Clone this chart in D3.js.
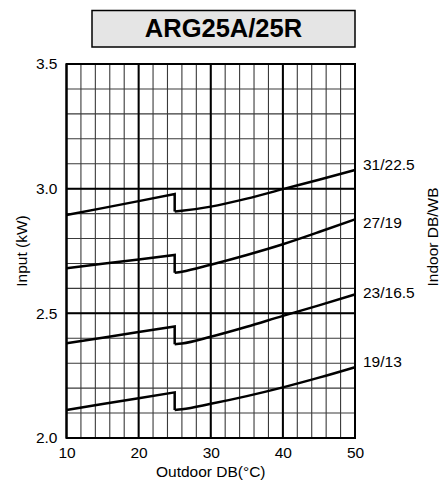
<!DOCTYPE html>
<html>
<head>
<meta charset="utf-8">
<script src="https://cdn.jsdelivr.net/npm/d3@7"></script>
<style>
html,body{margin:0;padding:0;background:#fff;}
svg{display:block;font-family:"Liberation Sans",Arial,sans-serif;}
</style>
</head>
<body>
<svg id="chart" width="443" height="480"></svg>
<script>
const chartTitle = "ARG25A/25R";
const outdoorTemps = [10, 15, 20, 25, 25, 26, 30, 35, 40, 45, 50];
const jumpIndex = 4; // index where the curve after the step starts
const s31 = [2.894, 2.922, 2.950, 2.979, 2.908, 2.911, 2.928, 2.960, 2.998, 3.036, 3.075];
const s27 = [2.681, 2.699, 2.716, 2.734, 2.663, 2.667, 2.695, 2.734, 2.777, 2.826, 2.877];
const s23 = [2.380, 2.402, 2.425, 2.447, 2.376, 2.379, 2.406, 2.446, 2.490, 2.532, 2.576];
const s19 = [2.112, 2.136, 2.159, 2.183, 2.112, 2.115, 2.137, 2.168, 2.203, 2.242, 2.284];
const seriesLabels = ["31/22.5", "27/19", "23/16.5", "19/13"];
const labelValues = [3.095, 2.862, 2.585, 2.305];
const xTicks = [10, 20, 30, 40, 50];
const yTicks = [2.0, 2.5, 3.0, 3.5];
const xTickLabels = ["10", "20", "30", "40", "50"];
const yTickLabels = ["2.0", "2.5", "3.0", "3.5"];
const xMinorStep = 2;
const yMinorStep = 0.1;
const xTitle = "Outdoor DB(°C)";
const yTitle = "Input (kW)";
const rightTitle = "Indoor DB/WB";

const seriesValues = [s31, s27, s23, s19];

const svg = d3.select("#chart");
const L = 66.5, R = 355, T = 64, B = 438;
const x = d3.scaleLinear().domain([10, 50]).range([L, R]);
const y = d3.scaleLinear().domain([2.0, 3.5]).range([B, T]);

// title box
svg.append("rect").attr("x", 92).attr("y", 10.5).attr("width", 263).attr("height", 36.5)
  .attr("fill", "#e5e5e5").attr("stroke", "#000").attr("stroke-width", 1.5);
svg.append("text").attr("x", 223.5).attr("y", 37.3).attr("text-anchor", "middle")
  .attr("font-size", "25.5px").attr("font-weight", "bold").attr("fill", "#000").text(chartTitle);

const g = svg.append("g");

// minor grid
const xMinor = d3.range(10, 50 + 1e-9, xMinorStep);
const yMinor = d3.range(0, 16).map(i => +(2.0 + i * yMinorStep).toFixed(2));
g.selectAll(".vx").data(xMinor).join("line")
  .attr("x1", d => x(d)).attr("x2", d => x(d)).attr("y1", T).attr("y2", B)
  .attr("stroke", "#3a3a3a").attr("stroke-width", 1.1);
g.selectAll(".hy").data(yMinor).join("line")
  .attr("x1", L).attr("x2", R).attr("y1", d => y(d)).attr("y2", d => y(d))
  .attr("stroke", "#3a3a3a").attr("stroke-width", 1.1);
// major grid
g.selectAll(".mx").data(xTicks).join("line")
  .attr("x1", d => x(d)).attr("x2", d => x(d)).attr("y1", T).attr("y2", B)
  .attr("stroke", "#000").attr("stroke-width", 2);
g.selectAll(".my").data(yTicks).join("line")
  .attr("x1", L).attr("x2", R).attr("y1", d => y(d)).attr("y2", d => y(d))
  .attr("stroke", "#000").attr("stroke-width", 2);
g.append("rect").attr("x", L).attr("y", T).attr("width", R - L).attr("height", B - T)
  .attr("fill", "none").attr("stroke", "#000").attr("stroke-width", 2);

// curves
const lineLin = d3.line().x(d => x(d[0])).y(d => y(d[1]));
const lineCurve = d3.line().x(d => x(d[0])).y(d => y(d[1])).curve(d3.curveMonotoneX);
seriesValues.forEach(vals => {
  const pts = outdoorTemps.map((t, i) => [t, vals[i]]);
  const left = pts.slice(0, jumpIndex + 1);
  const right = pts.slice(jumpIndex);
  g.append("path").attr("d", lineLin(left)).attr("fill", "none")
    .attr("stroke", "#000").attr("stroke-width", 2.5).attr("stroke-linejoin", "miter");
  g.append("path").attr("d", lineCurve(right)).attr("fill", "none")
    .attr("stroke", "#000").attr("stroke-width", 2.5).attr("stroke-linejoin", "round");
});

// axes (labels only)
const xAxis = d3.axisBottom(x).tickValues(xTicks).tickSize(0).tickPadding(9)
  .tickFormat((d, i) => xTickLabels[i]);
const ax = svg.append("g").attr("transform", `translate(0,${B})`).call(xAxis);
ax.select(".domain").remove();
ax.selectAll("text").attr("font-size", "15.5px").attr("fill", "#000")
  .attr("font-family", "Liberation Sans, Arial, sans-serif");

const yAxis = d3.axisLeft(y).tickValues(yTicks).tickSize(0).tickPadding(9)
  .tickFormat((d, i) => yTickLabels[i]);
const ay = svg.append("g").attr("transform", `translate(${L},0)`).call(yAxis);
ay.select(".domain").remove();
ay.selectAll("text").attr("font-size", "15.5px").attr("fill", "#000")
  .attr("font-family", "Liberation Sans, Arial, sans-serif");

// series labels
svg.selectAll(".slab").data(seriesLabels).join("text")
  .attr("x", R + 8).attr("y", (d, i) => y(labelValues[i])).attr("dy", "0.35em")
  .attr("font-size", "15.5px").attr("fill", "#000").text(d => d);

// titles
svg.append("text").attr("x", (L + R) / 2).attr("y", 477).attr("text-anchor", "middle")
  .attr("font-size", "15.5px").attr("fill", "#000").text(xTitle);
svg.append("text").attr("transform", `translate(22,${(T + B) / 2}) rotate(-90)`)
  .attr("text-anchor", "middle").attr("dy", "0.35em")
  .attr("font-size", "15.5px").attr("fill", "#000").text(yTitle);
svg.append("text").attr("transform", `translate(433,237) rotate(-90)`)
  .attr("text-anchor", "middle").attr("dy", "0.35em")
  .attr("font-size", "15.5px").attr("fill", "#000").text(rightTitle);
</script>
</body>
</html>
